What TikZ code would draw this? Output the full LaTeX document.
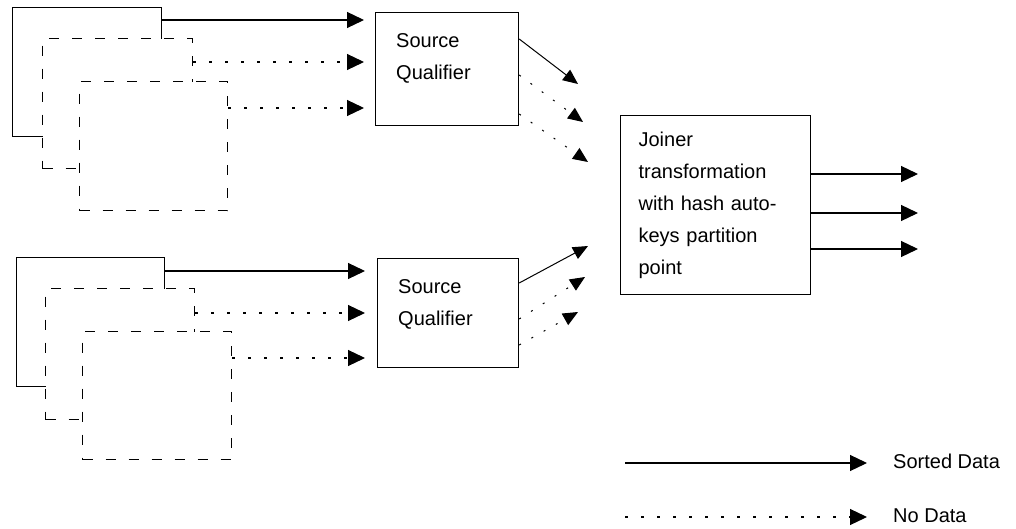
\documentclass[tikz,border=0pt]{standalone}
\usepackage{fontspec}
\setmainfont{Liberation Sans}
\usetikzlibrary{arrows.meta, positioning}

\begin{document}
\begin{tikzpicture}[
  x=1pt, y=-1pt,
  font=\fontsize{20}{32}\selectfont,
  page/.style={draw, fill=white, line width=1.2pt, anchor=north west, inner sep=0pt},
  ghost/.style={page, dash pattern=on 10pt off 13pt},
  qual/.style={draw, line width=1.2pt, anchor=north west, inner sep=0pt},
  txt/.style={anchor=north west, inner sep=0pt, align=left},
  sorted/.style={line width=1.2pt, -{Triangle[length=17pt, width=16pt]}},
  nodata/.style={sorted, dash pattern=on 3pt off 13pt},
  slant/.style={line width=1pt, -{Triangle[length=15pt, width=13pt]}},
  slantdot/.style={slant, dash pattern=on 2pt off 12pt}
]
  \useasboundingbox (0,0) rectangle (1016,529);

  % Top partitions
  \node[page, minimum width=149pt, minimum height=129pt] (part1a) at (12,7) {};
  \node[ghost, minimum width=150pt, minimum height=130pt] (part1b) at (42,38) {};
  \node[ghost, minimum width=148pt, minimum height=129pt] (part1c) at (79,81) {};

  % Bottom partitions
  \node[page, minimum width=148pt, minimum height=129pt] (part2a) at (16,257) {};
  \node[ghost, minimum width=149pt, minimum height=131pt] (part2b) at (45,288) {};
  \node[ghost, minimum width=149pt, minimum height=128pt] (part2c) at (82,331) {};

  % Source qualifiers
  \node[qual, minimum width=143pt, minimum height=113pt] (sq1) at (375,12) {};
  \node[txt] (sq1txt) at (396,33) {Source\\Qualifier};
  \node[qual, minimum width=141pt, minimum height=109pt] (sq2) at (377,258) {};
  \node[txt] (sq2txt) at (398,279) {Source\\Qualifier};

  % Joiner
  \node[qual, minimum width=190pt, minimum height=179pt, text width=154pt,
        inner xsep=18pt, align=left] (joiner) at (620,115)
    {Joiner\\transformation\\with hash auto-\\keys partition\\point};

  % Free ends
  \coordinate (in1a) at (578,84);
  \coordinate (in1b) at (583,122);
  \coordinate (in1c) at (588,162);
  \coordinate (in2a) at (588,246);
  \coordinate (in2b) at (585,277);
  \coordinate (in2c) at (578,312);
  \coordinate (out1) at (918,174);
  \coordinate (out2) at (918,213);
  \coordinate (out3) at (918,249);

  % Partitions to qualifiers
  \draw[sorted, shorten >=11pt] ([yshift=-13pt]part1a.north east) coordinate (p1a) -- (p1a -| sq1.west);
  \draw[nodata, shorten >=11pt] ([yshift=-24pt]part1b.north east) coordinate (p1b) -- (p1b -| sq1.west);
  \draw[nodata, shorten >=11pt] ([yshift=-27pt]part1c.north east) coordinate (p1c) -- (p1c -| sq1.west);
  \draw[sorted, shorten >=12pt] ([yshift=-14pt]part2a.north east) coordinate (p2a) -- (p2a -| sq2.west);
  \draw[nodata, shorten >=12pt] ([yshift=-25pt]part2b.north east) coordinate (p2b) -- (p2b -| sq2.west);
  \draw[nodata, shorten >=12pt] ([yshift=-27pt]part2c.north east) coordinate (p2c) -- (p2c -| sq2.west);

  % Qualifiers to joiner
  \draw[slant] ([yshift=-27pt]sq1.north east) -- (in1a);
  \draw[slantdot] ([yshift=-63pt]sq1.north east) -- (in1b);
  \draw[slantdot] ([yshift=-102pt]sq1.north east) -- (in1c);
  \draw[slant] ([yshift=-25pt]sq2.north east) -- (in2a);
  \draw[slantdot] ([yshift=-61pt]sq2.north east) -- (in2b);
  \draw[slantdot] ([yshift=-87pt]sq2.north east) -- (in2c);

  % Joiner outputs
  \draw[sorted] (joiner.east |- out1) -- (out1);
  \draw[sorted] (joiner.east |- out2) -- (out2);
  \draw[sorted] (joiner.east |- out3) -- (out3);

  % Legend
  \node[inner sep=0pt, anchor=west] (legsorted) at (893,461) {Sorted Data};
  \node[inner sep=0pt, anchor=west] (legnone) at (893,516) {No Data};
  \coordinate (legsa) at (625,463);
  \coordinate (legna) at (625,517);
  \draw[sorted, shorten >=26pt] (legsa) -- (legsa -| legsorted.west);
  \draw[nodata, shorten >=26pt] (legna) -- (legna -| legnone.west);
\end{tikzpicture}
\end{document}
